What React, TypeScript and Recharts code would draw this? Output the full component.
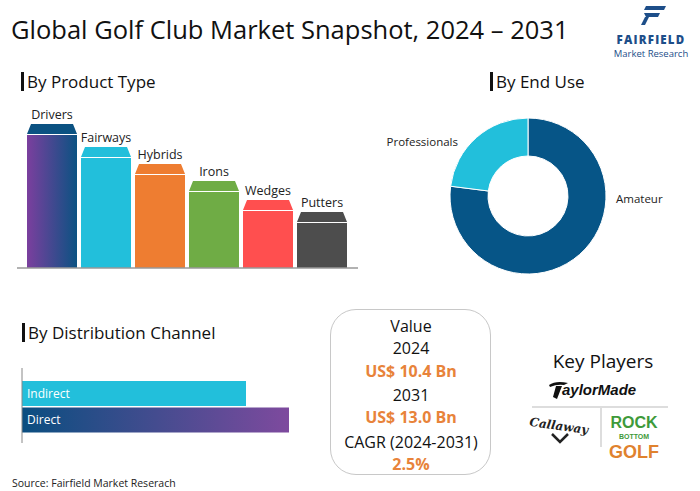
import { BarChart, Bar, XAxis, YAxis, PieChart, Pie, Cell, LabelList } from "recharts";

const FONT = "'Open Sans', sans-serif";

const productTypes = ["Drivers", "Fairways", "Hybrids", "Irons", "Wedges", "Putters"];
const productIndex = [144, 121, 104, 87, 68, 56];
const productColors = ["url(#driversGrad)", "#22BFDB", "#EE7D31", "#6FAC45", "#FF4F4F", "#4D4D4D"];
const productCapColors = ["#0B5282", "#22BFDB", "#EE7D31", "#6FAC45", "#FF4F4F", "#4D4D4D"];

const endUses = ["Amateur", "Professionals"];
const endUseShare = [77, 23];
const endUseColors = ["#065587", "#22BFDB"];

const channels = ["Indirect", "Direct"];
const channelIndex = [224, 267];
const channelColors = ["#22BFDB", "url(#directGrad)"];

const productData = productTypes.map((name, i) => ({ name, value: productIndex[i] }));
const endUseData = endUses.map((name, i) => ({ name, value: endUseShare[i] }));
const channelData = channels.map((name, i) => ({ name, value: channelIndex[i] }));

function CappedBar(props: any) {
  const { x, y, width, height, index } = props;
  const cap = 10;
  const inset = 4;
  return (
    <g>
      <path
        d={`M${x},${y + cap} L${x + inset},${y} L${x + width - inset},${y} L${x + width},${y + cap} Z`}
        fill={productCapColors[index]}
      />
      <rect x={x} y={y + cap + 1} width={width} height={height - cap - 1} fill={productColors[index]} />
    </g>
  );
}

function Heading({ x, y, text }: { x: number; y: number; text: string }) {
  return (
    <div style={{ position: "absolute", left: x, top: y, display: "flex", alignItems: "center" }}>
      <div style={{ width: 3, height: 19, background: "#111", marginRight: 3 }} />
      <span style={{ fontSize: 17, color: "#111", whiteSpace: "nowrap" }}>{text}</span>
    </div>
  );
}

function endUseLabel(p: any) {
  const { cx, cy, name } = p;
  if (name === "Professionals") {
    return (
      <text x={cx - 70} y={cy - 53} textAnchor="end" dominantBaseline="middle" fontSize={11.5} fill="#222" fontFamily={FONT}>
        {name}
      </text>
    );
  }
  return (
    <text x={cx + 88} y={cy + 4} textAnchor="start" dominantBaseline="middle" fontSize={11.5} fill="#222" fontFamily={FONT}>
      {name}
    </text>
  );
}

export default function App() {
  return (
    <div
      style={{
        position: "absolute",
        left: 0,
        top: 0,
        width: 700,
        height: 491,
        background: "#fff",
        fontFamily: FONT,
        color: "#111",
        overflow: "hidden",
      }}
    >
      <div style={{ position: "absolute", left: 11, top: 12, fontSize: 25.5, color: "#111", whiteSpace: "nowrap" }}>
        Global Golf Club Market Snapshot, 2024 – 2031
      </div>

      {/* logo */}
      <svg style={{ position: "absolute", left: 600, top: 0 }} width={100} height={60}>
        <path d="M46,6 L66,6 L64,10 L44,10 Z" fill="#1D4E89" />
        <path d="M44,13 L60,13 L58,17 L46,17 Z" fill="#1D4E89" />
        <path d="M45,17 L49,17 L45,25 L41,25 Z" fill="#1D4E89" />
        <text x={51} y={44} textAnchor="middle" fontSize={11.5} fontWeight={800} fill="#1D4E89" letterSpacing={1.2} fontFamily={FONT}>
          FAIRFIELD
        </text>
        <text x={51} y={57} textAnchor="middle" fontSize={9.5} fill="#1D4E89" fontFamily={FONT}>
          Market Research
        </text>
      </svg>

      <Heading x={21} y={70} text="By Product Type" />
      <Heading x={490} y={70} text="By End Use" />
      <Heading x={22} y={321} text="By Distribution Channel" />

      {/* product type */}
      <div style={{ position: "absolute", left: 0, top: 100 }}>
        <BarChart
          width={370}
          height={169}
          data={productData}
          margin={{ top: 8, right: 12, bottom: 0, left: 17 }}
          barSize={50}
        >
          <defs>
            <linearGradient id="driversGrad" x1="0" y1="0" x2="1" y2="0">
              <stop offset="0%" stopColor="#7B3F9E" />
              <stop offset="100%" stopColor="#0B5282" />
            </linearGradient>
          </defs>
          <XAxis
            dataKey="name"
            tick={false}
            tickLine={false}
            height={1}
            axisLine={{ stroke: "#999", strokeWidth: 1.5 }}
            padding={{ left: 8, right: 9 }}
          />
          <YAxis hide domain={[0, 160]} />
          <Bar dataKey="value" shape={<CappedBar />} isAnimationActive={false}>
            <LabelList dataKey="name" position="top" offset={5} fill="#222" fontSize={12.5} fontFamily={FONT} />
          </Bar>
        </BarChart>
      </div>

      {/* end use */}
      <div style={{ position: "absolute", left: 363, top: 96 }}>
        <PieChart width={330} height={200}>
          <Pie
            data={endUseData}
            dataKey="value"
            nameKey="name"
            cx="50%"
            cy="50%"
            innerRadius={40}
            outerRadius={78}
            startAngle={90}
            endAngle={-270}
            stroke="#fff"
            strokeWidth={1}
            label={endUseLabel}
            labelLine={false}
            isAnimationActive={false}
          >
            {endUseData.map((d, i) => (
              <Cell key={d.name} fill={endUseColors[i]} />
            ))}
          </Pie>
        </PieChart>
      </div>

      {/* distribution channel */}
      <div style={{ position: "absolute", left: 0, top: 368 }}>
        <BarChart
          width={330}
          height={75}
          data={channelData}
          layout="vertical"
          margin={{ top: 0, right: 8, bottom: 0, left: 0 }}
          barSize={25}
        >
          <defs>
            <linearGradient id="directGrad" x1="0" y1="0" x2="1" y2="0">
              <stop offset="0%" stopColor="#0A4E80" />
              <stop offset="100%" stopColor="#7E4A9E" />
            </linearGradient>
          </defs>
          <XAxis type="number" hide domain={[0, 300]} />
          <YAxis
            type="category"
            dataKey="name"
            width={22}
            tick={false}
            tickLine={false}
            axisLine={{ stroke: "#888", strokeWidth: 1 }}
            padding={{ top: 12, bottom: 10 }}
          />
          <Bar dataKey="value" isAnimationActive={false}>
            {channelData.map((d, i) => (
              <Cell key={d.name} fill={channelColors[i]} />
            ))}
            <LabelList dataKey="name" position="insideLeft" offset={5} fill="#fff" fontSize={12} fontFamily={FONT} />
          </Bar>
        </BarChart>
      </div>

      {/* value box */}
      <div
        style={{
          position: "absolute",
          left: 330,
          top: 309,
          width: 161,
          height: 166,
          border: "1px solid #c8c8c8",
          borderRadius: 26,
          boxSizing: "border-box",
        }}
      />
      {[
        { t: "Value", y: 326, c: "#111", w: 400 },
        { t: "2024", y: 348, c: "#111", w: 400 },
        { t: "US$ 10.4 Bn", y: 371, c: "#E8833A", w: 700 },
        { t: "2031", y: 395, c: "#111", w: 400 },
        { t: "US$ 13.0 Bn", y: 417, c: "#E8833A", w: 700 },
        { t: "CAGR (2024-2031)", y: 442, c: "#111", w: 400 },
        { t: "2.5%", y: 464, c: "#E8833A", w: 700 },
      ].map((r) => (
        <div
          key={r.t}
          style={{
            position: "absolute",
            left: 311,
            width: 200,
            top: r.y - 12,
            height: 24,
            lineHeight: "24px",
            textAlign: "center",
            fontSize: 16,
            color: r.c,
            fontWeight: r.w,
            whiteSpace: "nowrap",
          }}
        >
          {r.t}
        </div>
      ))}

      {/* key players */}
      <div
        style={{
          position: "absolute",
          left: 503,
          width: 200,
          top: 348,
          textAlign: "center",
          fontSize: 19,
          lineHeight: "26px",
          color: "#111",
        }}
      >
        Key Players
      </div>
      <svg style={{ position: "absolute", left: 520, top: 375 }} width={170} height={90}>
        <path d="M29,10 Q36,5 48,8 L44,10 Q37,9 30,12 Z" fill="#111" />
        <path d="M36,11 L42,11 L37,24 L33,22 Z" fill="#111" />
        <text x={42} y={20} fontSize={15} fontStyle="italic" fontWeight={900} fill="#111" fontFamily="'Liberation Sans', sans-serif">
          aylorMade
        </text>
        <line x1={12} y1={32} x2={148} y2={32} stroke="#bbb" strokeWidth={1} />
        <line x1={81} y1={33} x2={81} y2={72} stroke="#bbb" strokeWidth={1} />
        <text x={39} y={55} textAnchor="middle" fontSize={12} fontStyle="italic" fontWeight={700} fill="#222" fontFamily="'DejaVu Serif', serif" transform="rotate(8 39 50)">
          Callaway
        </text>
        <path d="M32,59 L40,67 L48,59" fill="none" stroke="#222" strokeWidth={2.5} />
        <text x={114} y={53} textAnchor="middle" fontSize={16} fontWeight={900} fill="#3E9A3A" fontFamily="'Liberation Sans Narrow', 'Liberation Sans', sans-serif">
          ROCK
        </text>
        <text x={114} y={64} textAnchor="middle" fontSize={7} fontWeight={900} fill="#3E9A3A" fontFamily="'Liberation Sans Narrow', 'Liberation Sans', sans-serif">
          BOTTOM
        </text>
        <text x={114} y={83} textAnchor="middle" fontSize={18} fontWeight={900} fill="#E0822E" fontFamily="'Liberation Sans Narrow', 'Liberation Sans', sans-serif">
          GOLF
        </text>
      </svg>

      <div style={{ position: "absolute", left: 12, top: 476, fontSize: 10.5, color: "#222", whiteSpace: "nowrap" }}>
        Source: Fairfield Market Reserach
      </div>
    </div>
  );
}
